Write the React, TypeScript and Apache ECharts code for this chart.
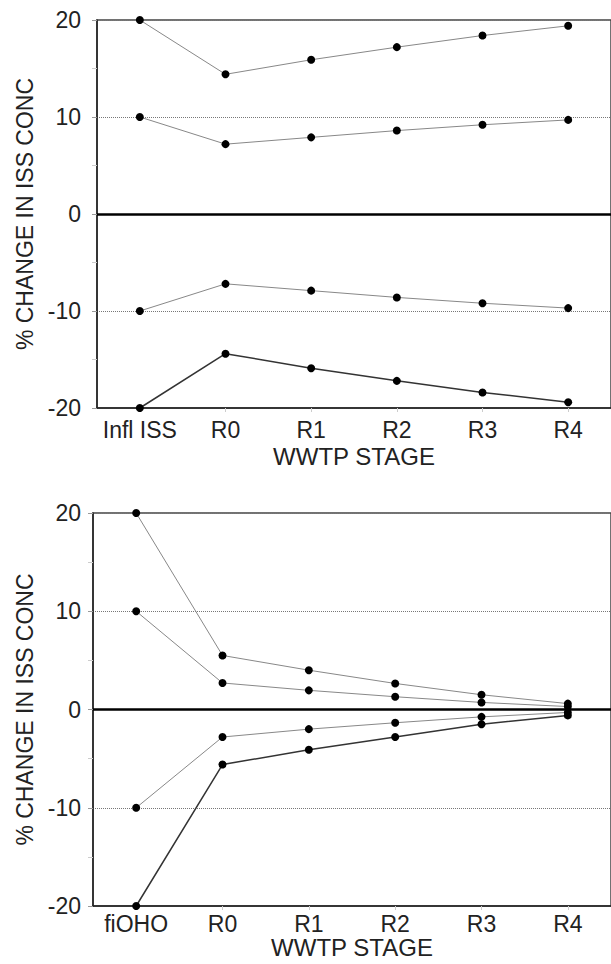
import React, { useEffect, useRef } from "react";
import * as echarts from "echarts";

const topCategories = ["Infl ISS", "R0", "R1", "R2", "R3", "R4"];
const bottomCategories = ["fiOHO", "R0", "R1", "R2", "R3", "R4"];

const topPlus20 = [20, 14.4, 15.9, 17.2, 18.4, 19.4];
const topPlus10 = [10, 7.2, 7.9, 8.6, 9.2, 9.7];
const topMinus10 = [-10, -7.2, -7.9, -8.6, -9.2, -9.7];
const topMinus20 = [-20, -14.4, -15.9, -17.2, -18.4, -19.4];

const botPlus20 = [20, 5.5, 4.0, 2.65, 1.5, 0.6];
const botPlus10 = [10, 2.7, 1.95, 1.3, 0.72, 0.3];
const botMinus10 = [-10, -2.8, -2.0, -1.35, -0.75, -0.3];
const botMinus20 = [-20, -5.6, -4.1, -2.8, -1.5, -0.6];

const yTicks = [-20, -10, 0, 10, 20];

const FONT = "Liberation Sans, Arial, sans-serif";
const TXT = "#222";

export default function App() {
  const ref = useRef<HTMLDivElement>(null);
  useEffect(() => {
    if (!ref.current) return;
    const chart = echarts.init(ref.current, undefined, { renderer: "svg" });

    const yAxisCommon = (gridIndex: number, gap: number, margin: number) => ({
      type: "value",
      gridIndex,
      min: yTicks[0],
      max: yTicks[yTicks.length - 1],
      interval: 10,
      name: "% CHANGE IN ISS CONC",
      nameLocation: "middle",
      nameGap: gap,
      nameTextStyle: { fontFamily: FONT, fontSize: 23, color: TXT },
      axisLine: { show: true, lineStyle: { color: "#222", width: 1.5 } },
      axisTick: { show: true, length: 5, lineStyle: { color: "#999" } },
      minorTick: { show: true, splitNumber: 2, length: 5, lineStyle: { color: "#ccc" } },
      axisLabel: { fontFamily: FONT, fontSize: 23, color: TXT, margin },
      splitLine: { show: true, lineStyle: { type: "dotted", color: "#777", width: 1 } },
    });

    const xAxisCommon = (gridIndex: number, data: string[], margin: number, gap: number) => ({
      type: "category",
      gridIndex,
      data,
      boundaryGap: true,
      name: "WWTP STAGE",
      nameLocation: "middle",
      nameGap: gap,
      nameTextStyle: { fontFamily: FONT, fontSize: 24, color: TXT },
      axisLine: { show: true, onZero: false, lineStyle: { color: "#222", width: 1.5 } },
      axisTick: { show: true, alignWithLabel: true, interval: 0, length: 4, lineStyle: { color: "#ccc" } },
      axisLabel: { fontFamily: FONT, fontSize: 23, color: TXT, margin, interval: 0, hideOverlap: false },
      splitLine: { show: false },
    });

    const mkSeries = (data: number[], idx: number, dark: boolean, zero: boolean) => ({
      type: "line",
      xAxisIndex: idx,
      yAxisIndex: idx,
      data,
      symbol: "circle",
      symbolSize: 8,
      itemStyle: { color: "#000" },
      lineStyle: { color: dark ? "#333" : "#888", width: dark ? 1.5 : 1 },
      clip: false,
      z: dark ? 4 : 3,
      markLine: zero
        ? {
            silent: true,
            symbol: "none",
            label: { show: false },
            lineStyle: { color: "#000", type: "solid", width: 2.5 },
            data: [{ yAxis: 0 }],
            z: 2,
          }
        : undefined,
    });

    chart.setOption({
      animation: false,
      backgroundColor: "#fff",
      grid: [
        { left: 97, top: 20, width: 517, height: 388, show: true, borderColor: "#444", borderWidth: 1.5, containLabel: false },
        { left: 93, top: 513, width: 521, height: 393, show: true, borderColor: "#444", borderWidth: 1.5, containLabel: false },
      ],
      xAxis: [xAxisCommon(0, topCategories, 10, 36), xAxisCommon(1, bottomCategories, 6, 26)],
      yAxis: [yAxisCommon(0, 60, 16), yAxisCommon(1, 56, 12)],
      series: [
        mkSeries(topPlus20, 0, false, true),
        mkSeries(topPlus10, 0, false, false),
        mkSeries(topMinus10, 0, false, false),
        mkSeries(topMinus20, 0, true, false),
        mkSeries(botPlus20, 1, false, true),
        mkSeries(botPlus10, 1, false, false),
        mkSeries(botMinus10, 1, false, false),
        mkSeries(botMinus20, 1, true, false),
      ],
    });
    return () => chart.dispose();
  }, []);
  return (
    <div
      ref={ref}
      style={{ position: "fixed", left: 0, top: 0, width: 611, height: 964, background: "#fff" }}
    />
  );
}
